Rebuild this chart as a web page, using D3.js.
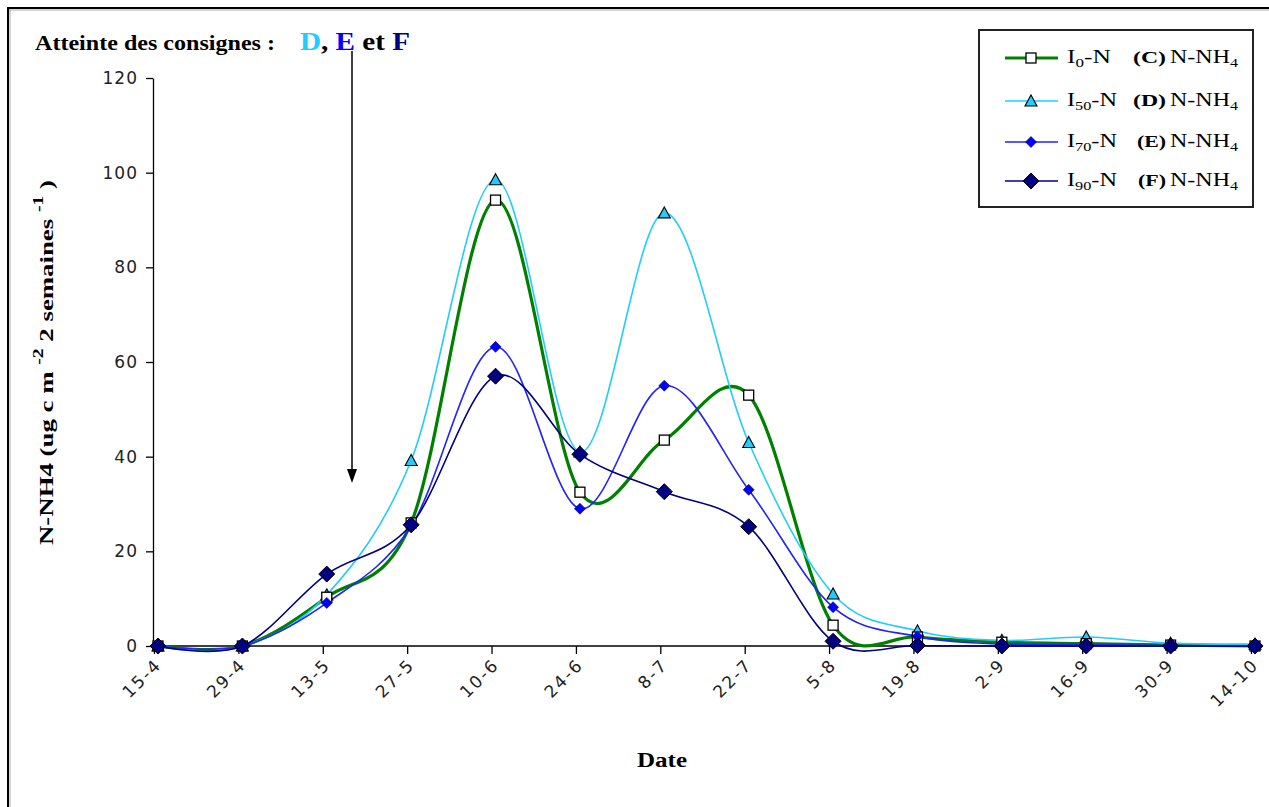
<!DOCTYPE html>
<html>
<head>
<meta charset="utf-8">
<script src="https://cdn.jsdelivr.net/npm/d3@7"></script>
<style>
  html, body { margin: 0; padding: 0; background: #fff; }
  svg { display: block; }
</style>
</head>
<body>
<svg id="chart" width="1269" height="807"></svg>
<script>
// Sampling dates (day-month)
const dates = ["15-4","29-4","13-5","27-5","10-6","24-6","8-7","22-7","5-8","19-8","2-9","16-9","30-9","14-10"];

// N-NH4 (ug cm-2 per 2 weeks) for each treatment
const seriesC = [0, 0, 10.3, 26, 94.2, 32.5, 43.5, 53, 4.4, 1.9, 0.8, 0.5, 0.2, 0];
const seriesD = [0, 0, 10.8, 39.2, 98.5, 41, 91.5, 43, 11, 3.2, 1.2, 1.9, 0.6, 0.4];
const seriesE = [0, 0, 9.1, 25.3, 63.2, 29, 55, 33, 8.2, 2.0, 0.4, 0.3, 0.1, 0];
const seriesF = [0, 0, 15.2, 25.6, 57, 40.5, 32.6, 25.2, 1.0, 0.1, 0, 0, 0, 0];

const yTicks = [0, 20, 40, 60, 80, 100, 120];

const svg = d3.select("#chart");
const serif = "'Liberation Serif', 'Times New Roman', serif";
const sans = "'DejaVu Sans', 'Liberation Sans', sans-serif";

// outer frame (top and left edges)
svg.append("line").attr("x1", 8).attr("y1", 10).attr("x2", 1269).attr("y2", 10).attr("stroke", "#aaa").attr("stroke-width", 1);
svg.append("line").attr("x1", 10).attr("y1", 8).attr("x2", 10).attr("y2", 807).attr("stroke", "#aaa").attr("stroke-width", 1);
svg.append("line").attr("x1", 7).attr("y1", 8).attr("x2", 1269).attr("y2", 8).attr("stroke", "#000").attr("stroke-width", 2);
svg.append("line").attr("x1", 8).attr("y1", 7).attr("x2", 8).attr("y2", 807).attr("stroke", "#000").attr("stroke-width", 2);

const x = d3.scalePoint().domain(dates).range([158, 1255]);
const y = d3.scaleLinear().domain([0, 120]).range([646, 78]);

// y axis
const yAxis = svg.append("g").attr("transform", "translate(153,0)")
  .call(d3.axisLeft(y).tickValues(yTicks).tickSize(7).tickPadding(8).tickSizeOuter(0));
yAxis.select(".domain").attr("stroke", "#000").attr("stroke-width", 1.3);
yAxis.selectAll(".tick line").attr("stroke", "#000").attr("stroke-width", 1.3);
yAxis.selectAll(".tick text").attr("font-family", sans).attr("font-size", 17)
  .attr("letter-spacing", 1).attr("fill", "#222");

// x axis
const xAxis = svg.append("g").attr("transform", "translate(0,646)")
  .call(d3.axisBottom(x).tickSize(8).tickSizeOuter(0));
xAxis.select(".domain").attr("d", "M153,0H1262").attr("stroke", "#000").attr("stroke-width", 1.3);
xAxis.selectAll(".tick line").attr("transform", "translate(-4,0)").attr("stroke", "#000").attr("stroke-width", 1.3);
xAxis.selectAll(".tick text")
  .attr("font-family", sans).attr("font-size", 17).attr("fill", "#222")
  .attr("letter-spacing", 2)
  .attr("text-anchor", "end")
  .attr("dy", null).attr("y", null)
  .attr("transform", "translate(4,20) rotate(-45)");

// axis titles
svg.append("text").attr("x", 637).attr("y", 767)
  .attr("textLength", 50).attr("lengthAdjust", "spacingAndGlyphs")
  .attr("font-family", serif).attr("font-weight", "bold").attr("font-size", 20).text("Date");

const yl = svg.append("text")
  .attr("transform", "translate(53,545) rotate(-90)")
  .attr("textLength", 365).attr("lengthAdjust", "spacingAndGlyphs")
  .attr("font-family", serif).attr("font-weight", "bold").attr("font-size", 19);
yl.append("tspan").text("N-NH4  (ug c m ");
yl.append("tspan").attr("dy", -10).attr("font-size", 14).text("-2");
yl.append("tspan").attr("dy", 10).text("  2 semaines ");
yl.append("tspan").attr("dy", -10).attr("font-size", 14).text("-1");
yl.append("tspan").attr("dy", 10).text(" )");

// curves
const line = d3.line()
  .x((d, i) => x(dates[i]))
  .y(d => y(d))
  .curve(d3.curveCatmullRom.alpha(0));

const series = [
  { key: "C", values: seriesC, color: "#008000", width: 3.2 },
  { key: "D", values: seriesD, color: "#22ccff", width: 1.6 },
  { key: "E", values: seriesE, color: "#2222ff", width: 1.6 },
  { key: "F", values: seriesF, color: "#000080", width: 1.6 }
];

series.forEach(s => {
  svg.append("path").datum(s.values)
    .attr("fill", "none").attr("stroke", s.color).attr("stroke-width", s.width)
    .attr("stroke-linejoin", "round").attr("d", line);
});

// marker shapes
function drawMarker(g, key, cx, cy) {
  if (key === "C") {
    g.append("rect").attr("x", cx - 5).attr("y", cy - 5).attr("width", 10).attr("height", 10)
      .attr("fill", "#fff").attr("stroke", "#000").attr("stroke-width", 1.3);
  } else if (key === "D") {
    g.append("path").attr("d", `M${cx},${cy - 6}L${cx + 6},${cy + 5}L${cx - 6},${cy + 5}Z`)
      .attr("fill", "#22ccff").attr("stroke", "#000").attr("stroke-width", 1.1);
  } else if (key === "E") {
    g.append("path").attr("d", `M${cx},${cy - 5.5}L${cx + 5.5},${cy}L${cx},${cy + 5.5}L${cx - 5.5},${cy}Z`)
      .attr("fill", "#0000ff").attr("stroke", "#000060").attr("stroke-width", 0.6);
  } else {
    g.append("path").attr("d", `M${cx},${cy - 8}L${cx + 8},${cy}L${cx},${cy + 8}L${cx - 8},${cy}Z`)
      .attr("fill", "#000080").attr("stroke", "#000").attr("stroke-width", 1);
  }
}

const markerOrder = ["D", "C", "E", "F"];
markerOrder.forEach(k => {
  const s = series.find(d => d.key === k);
  const g = svg.append("g");
  s.values.forEach((v, i) => drawMarker(g, k, x(dates[i]), y(v)));
});

// annotation
const ann = svg.append("g");
ann.append("text").attr("x", 35).attr("y", 50)
  .attr("textLength", 240).attr("lengthAdjust", "spacingAndGlyphs")
  .attr("font-family", serif).attr("font-weight", "bold").attr("font-size", 20)
  .text("Atteinte des consignes :");
const tgt = ann.append("text").attr("x", 300).attr("y", 50)
  .attr("textLength", 110).attr("lengthAdjust", "spacingAndGlyphs")
  .attr("font-family", serif).attr("font-weight", "bold").attr("font-size", 26);
tgt.append("tspan").attr("fill", "#22ccff").text("D");
tgt.append("tspan").attr("fill", "#000").text(", ");
tgt.append("tspan").attr("fill", "#0000ff").text("E");
tgt.append("tspan").attr("fill", "#000").text(" et ");
tgt.append("tspan").attr("fill", "#000080").text("F");

ann.append("line").attr("x1", 352).attr("y1", 51).attr("x2", 352).attr("y2", 472)
  .attr("stroke", "#000").attr("stroke-width", 1.5);
ann.append("path").attr("d", "M347,469L357,469L352,483Z").attr("fill", "#000");

// legend
const legend = svg.append("g");
legend.append("rect").attr("x", 979).attr("y", 30).attr("width", 274).attr("height", 177)
  .attr("fill", "#fff").attr("stroke", "#222").attr("stroke-width", 2);
const subs = ["0", "50", "70", "90"];
const legY = [58, 101, 142, 181];
const labelX = { C: 1133, D: 1133, E: 1137, F: 1138 };
series.forEach((s, i) => {
  const ly = legY[i];
  legend.append("line").attr("x1", 1005).attr("x2", 1058).attr("y1", ly).attr("y2", ly)
    .attr("stroke", s.color).attr("stroke-width", s.width);
  drawMarker(legend, s.key, 1031, ly);
  const t1 = legend.append("text").attr("x", 1067).attr("y", ly + 5)
    .attr("textLength", i === 0 ? 44 : 50).attr("lengthAdjust", "spacingAndGlyphs")
    .attr("font-family", serif).attr("font-size", 18);
  t1.append("tspan").text("I");
  t1.append("tspan").attr("dy", 4).attr("font-size", 12).text(subs[i]);
  t1.append("tspan").attr("dy", -4).text("-N");
  legend.append("text").attr("x", labelX[s.key]).attr("y", ly + 5)
    .attr("textLength", 1166 - labelX[s.key]).attr("lengthAdjust", "spacingAndGlyphs")
    .attr("font-family", serif).attr("font-weight", "bold").attr("font-size", 16)
    .text("(" + s.key + ")");
  const t2 = legend.append("text").attr("x", 1170).attr("y", ly + 5)
    .attr("textLength", 68).attr("lengthAdjust", "spacingAndGlyphs")
    .attr("font-family", serif).attr("font-size", 18);
  t2.append("tspan").text("N-NH");
  t2.append("tspan").attr("dy", 4).attr("font-size", 12).text("4");
});
</script>
</body>
</html>
